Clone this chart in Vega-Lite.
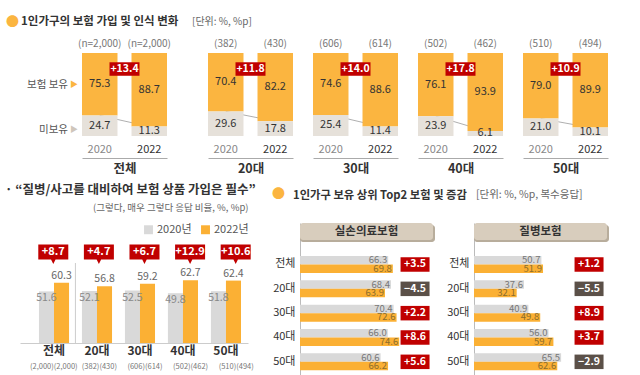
{
"$schema": "https://vega.github.io/schema/vega-lite/v6.json",
"padding": {"left": 5, "top": 15, "right": 5, "bottom": 0},
"bounds": "full",
"spacing": 8,
"config": {"font": "Noto Sans CJK KR", "view": {"stroke": null}, "title": {"anchor": "start", "color": "#333", "fontWeight": "bold"}},
"resolve": {"scale": {"color": "independent"}, "legend": {"color": "independent"}},
"datasets": {
"top": [
{"g":"전체","year":"2020","type":"보유","v":75.3},{"g":"전체","year":"2020","type":"미보유","v":24.7},
{"g":"전체","year":"2022","type":"보유","v":88.7},{"g":"전체","year":"2022","type":"미보유","v":11.3},
{"g":"20대","year":"2020","type":"보유","v":70.4},{"g":"20대","year":"2020","type":"미보유","v":29.6},
{"g":"20대","year":"2022","type":"보유","v":82.2},{"g":"20대","year":"2022","type":"미보유","v":17.8},
{"g":"30대","year":"2020","type":"보유","v":74.6},{"g":"30대","year":"2020","type":"미보유","v":25.4},
{"g":"30대","year":"2022","type":"보유","v":88.6},{"g":"30대","year":"2022","type":"미보유","v":11.4},
{"g":"40대","year":"2020","type":"보유","v":76.1},{"g":"40대","year":"2020","type":"미보유","v":23.9},
{"g":"40대","year":"2022","type":"보유","v":93.9},{"g":"40대","year":"2022","type":"미보유","v":6.1},
{"g":"50대","year":"2020","type":"보유","v":79.0},{"g":"50대","year":"2020","type":"미보유","v":21.0},
{"g":"50대","year":"2022","type":"보유","v":89.9},{"g":"50대","year":"2022","type":"미보유","v":10.1}
],
"topN": [
{"g":"전체","year":"2020","n":"(n=2,000)"},{"g":"전체","year":"2022","n":"(n=2,000)"},
{"g":"20대","year":"2020","n":"(382)"},{"g":"20대","year":"2022","n":"(430)"},
{"g":"30대","year":"2020","n":"(606)"},{"g":"30대","year":"2022","n":"(614)"},
{"g":"40대","year":"2020","n":"(502)"},{"g":"40대","year":"2022","n":"(462)"},
{"g":"50대","year":"2020","n":"(510)"},{"g":"50대","year":"2022","n":"(494)"}
],
"topChg": [{"g":"전체","chg":13.4},{"g":"20대","chg":11.8},{"g":"30대","chg":14.0},{"g":"40대","chg":17.8},{"g":"50대","chg":10.9}],
"rowlab": [{"lab":"보험 보유","kind":"보유"},{"lab":"미보유","kind":"미보유"}],
"op": [
{"g":"전체","year":"2020","v":51.6},{"g":"전체","year":"2022","v":60.3},
{"g":"20대","year":"2020","v":52.1},{"g":"20대","year":"2022","v":56.8},
{"g":"30대","year":"2020","v":52.5},{"g":"30대","year":"2022","v":59.2},
{"g":"40대","year":"2020","v":49.8},{"g":"40대","year":"2022","v":62.7},
{"g":"50대","year":"2020","v":51.8},{"g":"50대","year":"2022","v":62.4}
],
"opChg": [
{"g":"전체","nl":"(2,000)(2,000)","chg":8.7},{"g":"20대","nl":"(382)(430)","chg":4.7},
{"g":"30대","nl":"(606)(614)","chg":6.7},{"g":"40대","nl":"(502)(462)","chg":12.9},
{"g":"50대","nl":"(510)(494)","chg":10.6}
],
"ins": [
{"t":"실손의료보험","g":"전체","year":"2020","v":66.3},{"t":"실손의료보험","g":"전체","year":"2022","v":69.8},
{"t":"실손의료보험","g":"20대","year":"2020","v":68.4},{"t":"실손의료보험","g":"20대","year":"2022","v":63.9},
{"t":"실손의료보험","g":"30대","year":"2020","v":70.4},{"t":"실손의료보험","g":"30대","year":"2022","v":72.6},
{"t":"실손의료보험","g":"40대","year":"2020","v":66.0},{"t":"실손의료보험","g":"40대","year":"2022","v":74.6},
{"t":"실손의료보험","g":"50대","year":"2020","v":60.6},{"t":"실손의료보험","g":"50대","year":"2022","v":66.2},
{"t":"질병보험","g":"전체","year":"2020","v":50.7},{"t":"질병보험","g":"전체","year":"2022","v":51.9},
{"t":"질병보험","g":"20대","year":"2020","v":37.6},{"t":"질병보험","g":"20대","year":"2022","v":32.1},
{"t":"질병보험","g":"30대","year":"2020","v":40.9},{"t":"질병보험","g":"30대","year":"2022","v":49.8},
{"t":"질병보험","g":"40대","year":"2020","v":56.0},{"t":"질병보험","g":"40대","year":"2022","v":59.7},
{"t":"질병보험","g":"50대","year":"2020","v":65.5},{"t":"질병보험","g":"50대","year":"2022","v":62.6}
],
"insChg": [
{"t":"실손의료보험","g":"전체","chg":3.5},{"t":"실손의료보험","g":"20대","chg":-4.5},{"t":"실손의료보험","g":"30대","chg":2.2},{"t":"실손의료보험","g":"40대","chg":8.6},{"t":"실손의료보험","g":"50대","chg":5.6},
{"t":"질병보험","g":"전체","chg":1.2},{"t":"질병보험","g":"20대","chg":-5.5},{"t":"질병보험","g":"30대","chg":8.9},{"t":"질병보험","g":"40대","chg":3.7},{"t":"질병보험","g":"50대","chg":-2.9}
]
},
"vconcat": [
{"bounds": "flush", "spacing": 20,
 "hconcat": [
  {"width": 42, "height": 83,
   "title": {"text": "●", "anchor": "start", "dx": -14, "fontSize": 13, "color": "#FBB540", "offset": 24},
   "data": {"name": "rowlab"},
   "encoding": {"y": {"field": "lab", "type": "nominal", "scale": {"type": "point", "domain": ["보험 보유", "미보유"], "padding": 0.422, "align": 0.842}, "axis": null}},
   "layer": [
    {"mark": {"type": "text", "align": "right", "dx": 27, "fontSize": 10.5, "color": "#555"}, "encoding": {"text": {"field": "lab"}}},
    {"mark": {"type": "text", "align": "center", "dx": 33, "fontSize": 8}, "encoding": {"text": {"value": "▶"}, "color": {"condition": {"test": "datum.kind == '보유'", "value": "#FBB540"}, "value": "#CFC6BB"}}}
   ]},
  {"width": 85, "height": 83,
   "title": {"text": "1인가구의 보험 가입 및 인식 변화", "anchor": "start", "dx": -57, "fontSize": 11.5, "offset": 12},
   "layer": [
    {"data": {"name": "top"}, "transform": [{"filter": "datum.g == '전체' && datum.type == '미보유'"}], "mark": {"type": "line", "color": "#9a9a9a", "strokeWidth": 0.8},
     "encoding": {"x": {"field": "year", "type": "nominal", "scale": {"domain": ["2020", "2022"], "paddingInner": 0.283, "paddingOuter": 0}, "axis": {"title": "전체", "orient": "bottom", "offset": 22, "domainColor": "#aaa", "ticks": false, "labelPadding": -4, "labelBaseline": "bottom", "labelAngle": 0, "labelFontSize": 11, "labelColor": {"condition": {"test": "datum.value == '2020'", "value": "#888"}, "value": "#333"}, "titleFontSize": 12.5, "titleFontWeight": "bold", "titleColor": "#333", "titlePadding": 4}},
      "y": {"field": "v", "type": "quantitative", "scale": {"domain": [0, 100], "nice": false}, "axis": null}}},
    {"data": {"name": "top"}, "transform": [{"filter": "datum.g == '전체'"}], "mark": {"type": "bar"},
     "encoding": {"x": {"field": "year", "type": "nominal", "scale": {"domain": ["2020", "2022"], "paddingInner": 0.283, "paddingOuter": 0}, "axis": {"title": "전체", "orient": "bottom", "offset": 22, "domainColor": "#aaa", "ticks": false, "labelPadding": -4, "labelBaseline": "bottom", "labelAngle": 0, "labelFontSize": 11, "labelColor": {"condition": {"test": "datum.value == '2020'", "value": "#888"}, "value": "#333"}, "titleFontSize": 12.5, "titleFontWeight": "bold", "titleColor": "#333", "titlePadding": 4}},
      "y": {"field": "v", "type": "quantitative", "stack": "zero", "axis": null}, "detail": {"field": "type"}, "order": {"field": "type", "sort": "ascending"}, "color": {"condition": {"test": "datum.type == '보유'", "value": "#FBB540"}, "value": "#E6E1DA"}}},
    {"data": {"name": "top"}, "transform": [{"filter": "datum.g == '전체'"}], "mark": {"type": "text", "fontSize": 11, "color": "#333"},
     "encoding": {"x": {"field": "year", "type": "nominal", "scale": {"domain": ["2020", "2022"], "paddingInner": 0.283, "paddingOuter": 0}, "axis": {"title": "전체", "orient": "bottom", "offset": 22, "domainColor": "#aaa", "ticks": false, "labelPadding": -4, "labelBaseline": "bottom", "labelAngle": 0, "labelFontSize": 11, "labelColor": {"condition": {"test": "datum.value == '2020'", "value": "#888"}, "value": "#333"}, "titleFontSize": 12.5, "titleFontWeight": "bold", "titleColor": "#333", "titlePadding": 4}},
      "y": {"field": "v", "type": "quantitative", "stack": "zero", "bandPosition": 0.5, "axis": null}, "detail": {"field": "type"}, "order": {"field": "type", "sort": "ascending"}, "text": {"field": "v", "type": "quantitative", "format": ".1f"}}},
    {"data": {"name": "topN"}, "transform": [{"filter": "datum.g == '전체'"}], "mark": {"type": "text", "baseline": "bottom", "dy": -4, "fontSize": 10, "color": "#777"},
     "encoding": {"x": {"field": "year", "type": "nominal", "scale": {"domain": ["2020", "2022"], "paddingInner": 0.283, "paddingOuter": 0}, "axis": {"title": "전체", "orient": "bottom", "offset": 22, "domainColor": "#aaa", "ticks": false, "labelPadding": -4, "labelBaseline": "bottom", "labelAngle": 0, "labelFontSize": 11, "labelColor": {"condition": {"test": "datum.value == '2020'", "value": "#888"}, "value": "#333"}, "titleFontSize": 12.5, "titleFontWeight": "bold", "titleColor": "#333", "titlePadding": 4}},
      "y": {"datum": 100, "axis": null}, "text": {"field": "n"}}},
    {"data": {"name": "topChg"}, "transform": [{"filter": "datum.g == '전체'"}], "mark": {"type": "point", "shape": "M-1,-0.45H1V0.45H-1Z", "size": 900, "filled": true, "color": "#C00000", "opacity": 1},
     "encoding": {"y": {"datum": 80.7, "axis": null}}},
    {"data": {"name": "topChg"}, "transform": [{"filter": "datum.g == '전체'"}], "mark": {"type": "text", "fontSize": 10.5, "fontWeight": "bold", "color": "#fff"},
     "encoding": {"y": {"datum": 80.7, "axis": null}, "text": {"field": "chg", "type": "quantitative", "format": "+.1f"}}}
   ]},
  {"width": 1, "height": 83, "data": {"values": []}, "mark": {"type": "point", "opacity": 0}},
  {"width": 85, "height": 83,
   "title": {"text": "[단위: %, %p]", "anchor": "start", "dx": -16, "fontSize": 10, "fontWeight": "normal", "color": "#666", "offset": 12},
   "layer": [
    {"data": {"name": "top"}, "transform": [{"filter": "datum.g == '20대' && datum.type == '미보유'"}], "mark": {"type": "line", "color": "#9a9a9a", "strokeWidth": 0.8},
     "encoding": {"x": {"field": "year", "type": "nominal", "scale": {"domain": ["2020", "2022"], "paddingInner": 0.283, "paddingOuter": 0}, "axis": {"title": "20대", "orient": "bottom", "offset": 22, "domainColor": "#aaa", "ticks": false, "labelPadding": -4, "labelBaseline": "bottom", "labelAngle": 0, "labelFontSize": 11, "labelColor": {"condition": {"test": "datum.value == '2020'", "value": "#888"}, "value": "#333"}, "titleFontSize": 12.5, "titleFontWeight": "bold", "titleColor": "#333", "titlePadding": 4}},
      "y": {"field": "v", "type": "quantitative", "scale": {"domain": [0, 100], "nice": false}, "axis": null}}},
    {"data": {"name": "top"}, "transform": [{"filter": "datum.g == '20대'"}], "mark": {"type": "bar"},
     "encoding": {"x": {"field": "year", "type": "nominal", "scale": {"domain": ["2020", "2022"], "paddingInner": 0.283, "paddingOuter": 0}, "axis": {"title": "20대", "orient": "bottom", "offset": 22, "domainColor": "#aaa", "ticks": false, "labelPadding": -4, "labelBaseline": "bottom", "labelAngle": 0, "labelFontSize": 11, "labelColor": {"condition": {"test": "datum.value == '2020'", "value": "#888"}, "value": "#333"}, "titleFontSize": 12.5, "titleFontWeight": "bold", "titleColor": "#333", "titlePadding": 4}},
      "y": {"field": "v", "type": "quantitative", "stack": "zero", "axis": null}, "detail": {"field": "type"}, "order": {"field": "type", "sort": "ascending"}, "color": {"condition": {"test": "datum.type == '보유'", "value": "#FBB540"}, "value": "#E6E1DA"}}},
    {"data": {"name": "top"}, "transform": [{"filter": "datum.g == '20대'"}], "mark": {"type": "text", "fontSize": 11, "color": "#333"},
     "encoding": {"x": {"field": "year", "type": "nominal", "scale": {"domain": ["2020", "2022"], "paddingInner": 0.283, "paddingOuter": 0}, "axis": {"title": "20대", "orient": "bottom", "offset": 22, "domainColor": "#aaa", "ticks": false, "labelPadding": -4, "labelBaseline": "bottom", "labelAngle": 0, "labelFontSize": 11, "labelColor": {"condition": {"test": "datum.value == '2020'", "value": "#888"}, "value": "#333"}, "titleFontSize": 12.5, "titleFontWeight": "bold", "titleColor": "#333", "titlePadding": 4}},
      "y": {"field": "v", "type": "quantitative", "stack": "zero", "bandPosition": 0.5, "axis": null}, "detail": {"field": "type"}, "order": {"field": "type", "sort": "ascending"}, "text": {"field": "v", "type": "quantitative", "format": ".1f"}}},
    {"data": {"name": "topN"}, "transform": [{"filter": "datum.g == '20대'"}], "mark": {"type": "text", "baseline": "bottom", "dy": -4, "fontSize": 10, "color": "#777"},
     "encoding": {"x": {"field": "year", "type": "nominal", "scale": {"domain": ["2020", "2022"], "paddingInner": 0.283, "paddingOuter": 0}, "axis": {"title": "20대", "orient": "bottom", "offset": 22, "domainColor": "#aaa", "ticks": false, "labelPadding": -4, "labelBaseline": "bottom", "labelAngle": 0, "labelFontSize": 11, "labelColor": {"condition": {"test": "datum.value == '2020'", "value": "#888"}, "value": "#333"}, "titleFontSize": 12.5, "titleFontWeight": "bold", "titleColor": "#333", "titlePadding": 4}},
      "y": {"datum": 100, "axis": null}, "text": {"field": "n"}}},
    {"data": {"name": "topChg"}, "transform": [{"filter": "datum.g == '20대'"}], "mark": {"type": "point", "shape": "M-1,-0.45H1V0.45H-1Z", "size": 900, "filled": true, "color": "#C00000", "opacity": 1},
     "encoding": {"y": {"datum": 80.7, "axis": null}}},
    {"data": {"name": "topChg"}, "transform": [{"filter": "datum.g == '20대'"}], "mark": {"type": "text", "fontSize": 10.5, "fontWeight": "bold", "color": "#fff"},
     "encoding": {"y": {"datum": 80.7, "axis": null}, "text": {"field": "chg", "type": "quantitative", "format": "+.1f"}}}
   ]},
  {"width": 85, "height": 83,
   "layer": [
    {"data": {"name": "top"}, "transform": [{"filter": "datum.g == '30대' && datum.type == '미보유'"}], "mark": {"type": "line", "color": "#9a9a9a", "strokeWidth": 0.8},
     "encoding": {"x": {"field": "year", "type": "nominal", "scale": {"domain": ["2020", "2022"], "paddingInner": 0.283, "paddingOuter": 0}, "axis": {"title": "30대", "orient": "bottom", "offset": 22, "domainColor": "#aaa", "ticks": false, "labelPadding": -4, "labelBaseline": "bottom", "labelAngle": 0, "labelFontSize": 11, "labelColor": {"condition": {"test": "datum.value == '2020'", "value": "#888"}, "value": "#333"}, "titleFontSize": 12.5, "titleFontWeight": "bold", "titleColor": "#333", "titlePadding": 4}},
      "y": {"field": "v", "type": "quantitative", "scale": {"domain": [0, 100], "nice": false}, "axis": null}}},
    {"data": {"name": "top"}, "transform": [{"filter": "datum.g == '30대'"}], "mark": {"type": "bar"},
     "encoding": {"x": {"field": "year", "type": "nominal", "scale": {"domain": ["2020", "2022"], "paddingInner": 0.283, "paddingOuter": 0}, "axis": {"title": "30대", "orient": "bottom", "offset": 22, "domainColor": "#aaa", "ticks": false, "labelPadding": -4, "labelBaseline": "bottom", "labelAngle": 0, "labelFontSize": 11, "labelColor": {"condition": {"test": "datum.value == '2020'", "value": "#888"}, "value": "#333"}, "titleFontSize": 12.5, "titleFontWeight": "bold", "titleColor": "#333", "titlePadding": 4}},
      "y": {"field": "v", "type": "quantitative", "stack": "zero", "axis": null}, "detail": {"field": "type"}, "order": {"field": "type", "sort": "ascending"}, "color": {"condition": {"test": "datum.type == '보유'", "value": "#FBB540"}, "value": "#E6E1DA"}}},
    {"data": {"name": "top"}, "transform": [{"filter": "datum.g == '30대'"}], "mark": {"type": "text", "fontSize": 11, "color": "#333"},
     "encoding": {"x": {"field": "year", "type": "nominal", "scale": {"domain": ["2020", "2022"], "paddingInner": 0.283, "paddingOuter": 0}, "axis": {"title": "30대", "orient": "bottom", "offset": 22, "domainColor": "#aaa", "ticks": false, "labelPadding": -4, "labelBaseline": "bottom", "labelAngle": 0, "labelFontSize": 11, "labelColor": {"condition": {"test": "datum.value == '2020'", "value": "#888"}, "value": "#333"}, "titleFontSize": 12.5, "titleFontWeight": "bold", "titleColor": "#333", "titlePadding": 4}},
      "y": {"field": "v", "type": "quantitative", "stack": "zero", "bandPosition": 0.5, "axis": null}, "detail": {"field": "type"}, "order": {"field": "type", "sort": "ascending"}, "text": {"field": "v", "type": "quantitative", "format": ".1f"}}},
    {"data": {"name": "topN"}, "transform": [{"filter": "datum.g == '30대'"}], "mark": {"type": "text", "baseline": "bottom", "dy": -4, "fontSize": 10, "color": "#777"},
     "encoding": {"x": {"field": "year", "type": "nominal", "scale": {"domain": ["2020", "2022"], "paddingInner": 0.283, "paddingOuter": 0}, "axis": {"title": "30대", "orient": "bottom", "offset": 22, "domainColor": "#aaa", "ticks": false, "labelPadding": -4, "labelBaseline": "bottom", "labelAngle": 0, "labelFontSize": 11, "labelColor": {"condition": {"test": "datum.value == '2020'", "value": "#888"}, "value": "#333"}, "titleFontSize": 12.5, "titleFontWeight": "bold", "titleColor": "#333", "titlePadding": 4}},
      "y": {"datum": 100, "axis": null}, "text": {"field": "n"}}},
    {"data": {"name": "topChg"}, "transform": [{"filter": "datum.g == '30대'"}], "mark": {"type": "point", "shape": "M-1,-0.45H1V0.45H-1Z", "size": 900, "filled": true, "color": "#C00000", "opacity": 1},
     "encoding": {"y": {"datum": 80.7, "axis": null}}},
    {"data": {"name": "topChg"}, "transform": [{"filter": "datum.g == '30대'"}], "mark": {"type": "text", "fontSize": 10.5, "fontWeight": "bold", "color": "#fff"},
     "encoding": {"y": {"datum": 80.7, "axis": null}, "text": {"field": "chg", "type": "quantitative", "format": "+.1f"}}}
   ]},
  {"width": 85, "height": 83,
   "layer": [
    {"data": {"name": "top"}, "transform": [{"filter": "datum.g == '40대' && datum.type == '미보유'"}], "mark": {"type": "line", "color": "#9a9a9a", "strokeWidth": 0.8},
     "encoding": {"x": {"field": "year", "type": "nominal", "scale": {"domain": ["2020", "2022"], "paddingInner": 0.283, "paddingOuter": 0}, "axis": {"title": "40대", "orient": "bottom", "offset": 22, "domainColor": "#aaa", "ticks": false, "labelPadding": -4, "labelBaseline": "bottom", "labelAngle": 0, "labelFontSize": 11, "labelColor": {"condition": {"test": "datum.value == '2020'", "value": "#888"}, "value": "#333"}, "titleFontSize": 12.5, "titleFontWeight": "bold", "titleColor": "#333", "titlePadding": 4}},
      "y": {"field": "v", "type": "quantitative", "scale": {"domain": [0, 100], "nice": false}, "axis": null}}},
    {"data": {"name": "top"}, "transform": [{"filter": "datum.g == '40대'"}], "mark": {"type": "bar"},
     "encoding": {"x": {"field": "year", "type": "nominal", "scale": {"domain": ["2020", "2022"], "paddingInner": 0.283, "paddingOuter": 0}, "axis": {"title": "40대", "orient": "bottom", "offset": 22, "domainColor": "#aaa", "ticks": false, "labelPadding": -4, "labelBaseline": "bottom", "labelAngle": 0, "labelFontSize": 11, "labelColor": {"condition": {"test": "datum.value == '2020'", "value": "#888"}, "value": "#333"}, "titleFontSize": 12.5, "titleFontWeight": "bold", "titleColor": "#333", "titlePadding": 4}},
      "y": {"field": "v", "type": "quantitative", "stack": "zero", "axis": null}, "detail": {"field": "type"}, "order": {"field": "type", "sort": "ascending"}, "color": {"condition": {"test": "datum.type == '보유'", "value": "#FBB540"}, "value": "#E6E1DA"}}},
    {"data": {"name": "top"}, "transform": [{"filter": "datum.g == '40대'"}], "mark": {"type": "text", "fontSize": 11, "color": "#333"},
     "encoding": {"x": {"field": "year", "type": "nominal", "scale": {"domain": ["2020", "2022"], "paddingInner": 0.283, "paddingOuter": 0}, "axis": {"title": "40대", "orient": "bottom", "offset": 22, "domainColor": "#aaa", "ticks": false, "labelPadding": -4, "labelBaseline": "bottom", "labelAngle": 0, "labelFontSize": 11, "labelColor": {"condition": {"test": "datum.value == '2020'", "value": "#888"}, "value": "#333"}, "titleFontSize": 12.5, "titleFontWeight": "bold", "titleColor": "#333", "titlePadding": 4}},
      "y": {"field": "v", "type": "quantitative", "stack": "zero", "bandPosition": 0.5, "axis": null}, "detail": {"field": "type"}, "order": {"field": "type", "sort": "ascending"}, "text": {"field": "v", "type": "quantitative", "format": ".1f"}}},
    {"data": {"name": "topN"}, "transform": [{"filter": "datum.g == '40대'"}], "mark": {"type": "text", "baseline": "bottom", "dy": -4, "fontSize": 10, "color": "#777"},
     "encoding": {"x": {"field": "year", "type": "nominal", "scale": {"domain": ["2020", "2022"], "paddingInner": 0.283, "paddingOuter": 0}, "axis": {"title": "40대", "orient": "bottom", "offset": 22, "domainColor": "#aaa", "ticks": false, "labelPadding": -4, "labelBaseline": "bottom", "labelAngle": 0, "labelFontSize": 11, "labelColor": {"condition": {"test": "datum.value == '2020'", "value": "#888"}, "value": "#333"}, "titleFontSize": 12.5, "titleFontWeight": "bold", "titleColor": "#333", "titlePadding": 4}},
      "y": {"datum": 100, "axis": null}, "text": {"field": "n"}}},
    {"data": {"name": "topChg"}, "transform": [{"filter": "datum.g == '40대'"}], "mark": {"type": "point", "shape": "M-1,-0.45H1V0.45H-1Z", "size": 900, "filled": true, "color": "#C00000", "opacity": 1},
     "encoding": {"y": {"datum": 80.7, "axis": null}}},
    {"data": {"name": "topChg"}, "transform": [{"filter": "datum.g == '40대'"}], "mark": {"type": "text", "fontSize": 10.5, "fontWeight": "bold", "color": "#fff"},
     "encoding": {"y": {"datum": 80.7, "axis": null}, "text": {"field": "chg", "type": "quantitative", "format": "+.1f"}}}
   ]},
  {"width": 85, "height": 83,
   "layer": [
    {"data": {"name": "top"}, "transform": [{"filter": "datum.g == '50대' && datum.type == '미보유'"}], "mark": {"type": "line", "color": "#9a9a9a", "strokeWidth": 0.8},
     "encoding": {"x": {"field": "year", "type": "nominal", "scale": {"domain": ["2020", "2022"], "paddingInner": 0.283, "paddingOuter": 0}, "axis": {"title": "50대", "orient": "bottom", "offset": 22, "domainColor": "#aaa", "ticks": false, "labelPadding": -4, "labelBaseline": "bottom", "labelAngle": 0, "labelFontSize": 11, "labelColor": {"condition": {"test": "datum.value == '2020'", "value": "#888"}, "value": "#333"}, "titleFontSize": 12.5, "titleFontWeight": "bold", "titleColor": "#333", "titlePadding": 4}},
      "y": {"field": "v", "type": "quantitative", "scale": {"domain": [0, 100], "nice": false}, "axis": null}}},
    {"data": {"name": "top"}, "transform": [{"filter": "datum.g == '50대'"}], "mark": {"type": "bar"},
     "encoding": {"x": {"field": "year", "type": "nominal", "scale": {"domain": ["2020", "2022"], "paddingInner": 0.283, "paddingOuter": 0}, "axis": {"title": "50대", "orient": "bottom", "offset": 22, "domainColor": "#aaa", "ticks": false, "labelPadding": -4, "labelBaseline": "bottom", "labelAngle": 0, "labelFontSize": 11, "labelColor": {"condition": {"test": "datum.value == '2020'", "value": "#888"}, "value": "#333"}, "titleFontSize": 12.5, "titleFontWeight": "bold", "titleColor": "#333", "titlePadding": 4}},
      "y": {"field": "v", "type": "quantitative", "stack": "zero", "axis": null}, "detail": {"field": "type"}, "order": {"field": "type", "sort": "ascending"}, "color": {"condition": {"test": "datum.type == '보유'", "value": "#FBB540"}, "value": "#E6E1DA"}}},
    {"data": {"name": "top"}, "transform": [{"filter": "datum.g == '50대'"}], "mark": {"type": "text", "fontSize": 11, "color": "#333"},
     "encoding": {"x": {"field": "year", "type": "nominal", "scale": {"domain": ["2020", "2022"], "paddingInner": 0.283, "paddingOuter": 0}, "axis": {"title": "50대", "orient": "bottom", "offset": 22, "domainColor": "#aaa", "ticks": false, "labelPadding": -4, "labelBaseline": "bottom", "labelAngle": 0, "labelFontSize": 11, "labelColor": {"condition": {"test": "datum.value == '2020'", "value": "#888"}, "value": "#333"}, "titleFontSize": 12.5, "titleFontWeight": "bold", "titleColor": "#333", "titlePadding": 4}},
      "y": {"field": "v", "type": "quantitative", "stack": "zero", "bandPosition": 0.5, "axis": null}, "detail": {"field": "type"}, "order": {"field": "type", "sort": "ascending"}, "text": {"field": "v", "type": "quantitative", "format": ".1f"}}},
    {"data": {"name": "topN"}, "transform": [{"filter": "datum.g == '50대'"}], "mark": {"type": "text", "baseline": "bottom", "dy": -4, "fontSize": 10, "color": "#777"},
     "encoding": {"x": {"field": "year", "type": "nominal", "scale": {"domain": ["2020", "2022"], "paddingInner": 0.283, "paddingOuter": 0}, "axis": {"title": "50대", "orient": "bottom", "offset": 22, "domainColor": "#aaa", "ticks": false, "labelPadding": -4, "labelBaseline": "bottom", "labelAngle": 0, "labelFontSize": 11, "labelColor": {"condition": {"test": "datum.value == '2020'", "value": "#888"}, "value": "#333"}, "titleFontSize": 12.5, "titleFontWeight": "bold", "titleColor": "#333", "titlePadding": 4}},
      "y": {"datum": 100, "axis": null}, "text": {"field": "n"}}},
    {"data": {"name": "topChg"}, "transform": [{"filter": "datum.g == '50대'"}], "mark": {"type": "point", "shape": "M-1,-0.45H1V0.45H-1Z", "size": 900, "filled": true, "color": "#C00000", "opacity": 1},
     "encoding": {"y": {"datum": 80.7, "axis": null}}},
    {"data": {"name": "topChg"}, "transform": [{"filter": "datum.g == '50대'"}], "mark": {"type": "text", "fontSize": 10.5, "fontWeight": "bold", "color": "#fff"},
     "encoding": {"y": {"datum": 80.7, "axis": null}, "text": {"field": "chg", "type": "quantitative", "format": "+.1f"}}}
   ]}
 ]},
{"bounds": "flush", "spacing": 20,
 "hconcat": [
  {"width": 228, "height": 120,
   "title": {"text": "· “질병/사고를 대비하여 보험 상품 가입은 필수”", "anchor": "start", "dx": -15, "fontSize": 12.5, "offset": 6},
   "resolve": {"scale": {"x": "independent"}, "axis": {"x": "independent"}},
   "layer": [
    {"data": {"name": "op"},
     "encoding": {"x": {"field": "g", "type": "nominal", "sort": null, "scale": {"domain": ["전체", "20대", "30대", "40대", "50대"], "paddingInner": 0.3, "paddingOuter": 0.302, "align": 0.73}, "axis": {"title": null, "domainColor": "#ccc", "ticks": false, "labelPadding": 2, "labelFontSize": 12, "labelFontWeight": "bold", "labelColor": "#333", "labelAngle": 0}},
      "xOffset": {"field": "year", "type": "nominal", "scale": {"domain": ["2020", "2022"], "paddingInner": 0, "paddingOuter": 0}}},
     "layer": [
      {"mark": {"type": "bar"},
       "encoding": {"y": {"field": "v", "type": "quantitative", "scale": {"domain": [0, 120], "nice": false}, "axis": null},
        "color": {"field": "year", "type": "nominal", "scale": {"domain": ["2020", "2022"], "range": ["#D9D9D9", "#FBB034"]},
         "legend": {"orient": "none", "legendX": 123, "legendY": 1, "direction": "horizontal", "title": null, "symbolType": "square", "symbolSize": 80, "symbolStrokeWidth": 0, "labelFontSize": 11, "labelColor": "#555", "labelExpr": "datum.label + '년'", "columnPadding": 8, "labelOffset": 3}}}},
      {"transform": [{"filter": "datum.year == '2020'"}], "mark": {"type": "text", "baseline": "top", "dy": 2, "fontSize": 10.5, "color": "#888"},
       "encoding": {"y": {"field": "v", "type": "quantitative", "axis": null}, "text": {"field": "v", "type": "quantitative", "format": ".1f"}}},
      {"transform": [{"filter": "datum.year == '2022'"}], "mark": {"type": "text", "baseline": "bottom", "dy": -2, "fontSize": 10.5, "color": "#666"},
       "encoding": {"y": {"field": "v", "type": "quantitative", "axis": null}, "text": {"field": "v", "type": "quantitative", "format": ".1f"}}}
     ]},
    {"data": {"name": "opChg"},
     "encoding": {"x": {"field": "nl", "type": "nominal", "sort": null, "scale": {"domain": ["(2,000)(2,000)", "(382)(430)", "(606)(614)", "(502)(462)", "(510)(494)"], "paddingInner": 0.3, "paddingOuter": 0.302, "align": 0.73}, "axis": {"title": null, "orient": "bottom", "offset": 19, "domain": false, "ticks": false, "labelPadding": 0, "labelFontSize": 7.5, "labelColor": "#777", "labelAngle": 0, "labelOverlap": false}},
      "y": {"datum": 91, "axis": null}},
     "layer": [
      {"mark": {"type": "point", "shape": "M-1,-0.5H1V0.5H0.15L0,0.8L-0.15,0.5H-1Z", "size": 900, "filled": true, "color": "#C00000", "opacity": 1}},
      {"mark": {"type": "text", "color": "#fff", "fontWeight": "bold", "fontSize": 11}, "encoding": {"text": {"field": "chg", "type": "quantitative", "format": "+.1f"}}}
     ]},
    {"data": {"name": "op"}, "transform": [{"filter": "datum.g == '20대' && datum.year == '2020'"}], "mark": {"type": "rule", "color": "#ccc", "strokeWidth": 1},
     "encoding": {"x": {"field": "g", "type": "nominal", "bandPosition": -0.217, "scale": {"domain": ["전체", "20대", "30대", "40대", "50대"], "paddingInner": 0.3, "paddingOuter": 0.302, "align": 0.73},
       "axis": {"orient": "top", "labels": false, "domain": false, "ticks": false, "grid": false, "title": "(그렇다, 매우 그렇다 응답 비율, %, %p)", "titleAnchor": "end", "titleFontSize": 9.5, "titleFontWeight": "normal", "titleColor": "#666", "titlePadding": 11}},
      "y": {"datum": 0, "axis": null}, "y2": {"datum": 80}}}
   ]},
  {"width": 12, "height": 1, "data": {"values": []}, "mark": {"type": "point", "opacity": 0},
   "title": {"text": "●", "anchor": "start", "frame": "group", "dx": 4, "fontSize": 13, "color": "#FBB540", "offset": 22}},
  {"width": 133, "height": 152,
   "title": {"text": "1인가구 보유 상위 Top2 보험 및 증감", "anchor": "start", "frame": "group", "dx": -7, "fontSize": 11.3, "offset": 22},
   "resolve": {"scale": {"y": "independent"}, "axis": {"y": "independent"}},
   "layer": [
    {"data": {"values": [{"t": "실손의료보험"}]},
     "encoding": {"y": {"field": "t", "type": "nominal", "scale": {"paddingInner": 0.748, "paddingOuter": 1, "align": 0}, "axis": null}},
     "layer": [
      {"mark": {"type": "rect", "color": "#B8AD9C", "cornerRadius": 3, "xOffset": 2, "x2Offset": 2, "yOffset": 2, "y2Offset": 2}},
      {"mark": {"type": "rect", "color": "#D8CDBD", "cornerRadius": 3}},
      {"mark": {"type": "text", "fontSize": 11.5, "fontWeight": "bold", "color": "#333"}, "encoding": {"text": {"field": "t"}}}
     ]},
    {"encoding": {"y": {"field": "g", "type": "nominal", "sort": null, "scale": {"domain": ["전체", "20대", "30대", "40대", "50대"], "paddingInner": 0.301, "paddingOuter": 0.774, "align": 0.876}, "axis": {"title": null, "domainColor": "#bbb", "ticks": false, "labelPadding": 5, "labelFontSize": 11, "labelColor": "#333"}}},
     "layer": [
      {"data": {"name": "ins"}, "transform": [{"filter": "datum.t == '실손의료보험'"}], "mark": {"type": "bar"},
       "encoding": {"yOffset": {"field": "year", "type": "nominal", "scale": {"domain": ["2020", "2022"], "paddingInner": 0, "paddingOuter": 0}},
        "x": {"field": "v", "type": "quantitative", "scale": {"domain": [0, 100], "nice": false}, "axis": null},
        "color": {"condition": {"test": "datum.year == '2020'", "value": "#D9D9D9"}, "value": "#FBB034"}}},
      {"data": {"name": "ins"}, "transform": [{"filter": "datum.t == '실손의료보험'"}], "mark": {"type": "text", "align": "right", "baseline": "middle", "dx": -1, "fontSize": 9.5},
       "encoding": {"yOffset": {"field": "year", "type": "nominal"}, "x": {"field": "v", "type": "quantitative", "axis": null}, "text": {"field": "v", "type": "quantitative", "format": ".1f"},
        "color": {"condition": {"test": "datum.year == '2020'", "value": "#777"}, "value": "#8C6D2C"}}},
      {"data": {"name": "insChg"}, "transform": [{"filter": "datum.t == '실손의료보험'"}], "mark": {"type": "point", "shape": "M-1,-0.5H1V0.5H-1Z", "size": 841, "filled": true, "opacity": 1},
       "encoding": {"x": {"datum": 86.5, "axis": null}, "color": {"condition": {"test": "datum.chg > 0", "value": "#C00000"}, "value": "#5B5048"}}},
      {"data": {"name": "insChg"}, "transform": [{"filter": "datum.t == '실손의료보험'"}], "mark": {"type": "text", "color": "#fff", "fontWeight": "bold", "fontSize": 10.5},
       "encoding": {"x": {"datum": 86.5, "axis": null}, "text": {"field": "chg", "type": "quantitative", "format": "+.1f"}}}
     ]}
   ]},
  {"width": 1, "height": 1, "data": {"values": []}, "mark": {"type": "point", "opacity": 0}},
  {"width": 133, "height": 152,
   "title": {"text": "[단위: %, %p, 복수응답]", "anchor": "start", "frame": "group", "dx": 2, "fontSize": 10.5, "fontWeight": "normal", "color": "#666", "offset": 23},
   "resolve": {"scale": {"y": "independent"}, "axis": {"y": "independent"}},
   "layer": [
    {"data": {"values": [{"t": "질병보험"}]},
     "encoding": {"y": {"field": "t", "type": "nominal", "scale": {"paddingInner": 0.748, "paddingOuter": 1, "align": 0}, "axis": null}},
     "layer": [
      {"mark": {"type": "rect", "color": "#B8AD9C", "cornerRadius": 3, "xOffset": 2, "x2Offset": 2, "yOffset": 2, "y2Offset": 2}},
      {"mark": {"type": "rect", "color": "#D8CDBD", "cornerRadius": 3}},
      {"mark": {"type": "text", "fontSize": 11.5, "fontWeight": "bold", "color": "#333"}, "encoding": {"text": {"field": "t"}}}
     ]},
    {"encoding": {"y": {"field": "g", "type": "nominal", "sort": null, "scale": {"domain": ["전체", "20대", "30대", "40대", "50대"], "paddingInner": 0.301, "paddingOuter": 0.774, "align": 0.876}, "axis": {"title": null, "domainColor": "#bbb", "ticks": false, "labelPadding": 5, "labelFontSize": 11, "labelColor": "#333"}}},
     "layer": [
      {"data": {"name": "ins"}, "transform": [{"filter": "datum.t == '질병보험'"}], "mark": {"type": "bar"},
       "encoding": {"yOffset": {"field": "year", "type": "nominal", "scale": {"domain": ["2020", "2022"], "paddingInner": 0, "paddingOuter": 0}},
        "x": {"field": "v", "type": "quantitative", "scale": {"domain": [0, 100], "nice": false}, "axis": null},
        "color": {"condition": {"test": "datum.year == '2020'", "value": "#D9D9D9"}, "value": "#FBB034"}}},
      {"data": {"name": "ins"}, "transform": [{"filter": "datum.t == '질병보험'"}], "mark": {"type": "text", "align": "right", "baseline": "middle", "dx": -1, "fontSize": 9.5},
       "encoding": {"yOffset": {"field": "year", "type": "nominal"}, "x": {"field": "v", "type": "quantitative", "axis": null}, "text": {"field": "v", "type": "quantitative", "format": ".1f"},
        "color": {"condition": {"test": "datum.year == '2020'", "value": "#777"}, "value": "#8C6D2C"}}},
      {"data": {"name": "insChg"}, "transform": [{"filter": "datum.t == '질병보험'"}], "mark": {"type": "point", "shape": "M-1,-0.5H1V0.5H-1Z", "size": 841, "filled": true, "opacity": 1},
       "encoding": {"x": {"datum": 86.5, "axis": null}, "color": {"condition": {"test": "datum.chg > 0", "value": "#C00000"}, "value": "#5B5048"}}},
      {"data": {"name": "insChg"}, "transform": [{"filter": "datum.t == '질병보험'"}], "mark": {"type": "text", "color": "#fff", "fontWeight": "bold", "fontSize": 10.5},
       "encoding": {"x": {"datum": 86.5, "axis": null}, "text": {"field": "chg", "type": "quantitative", "format": "+.1f"}}}
     ]}
   ]}
 ]}
]
}
